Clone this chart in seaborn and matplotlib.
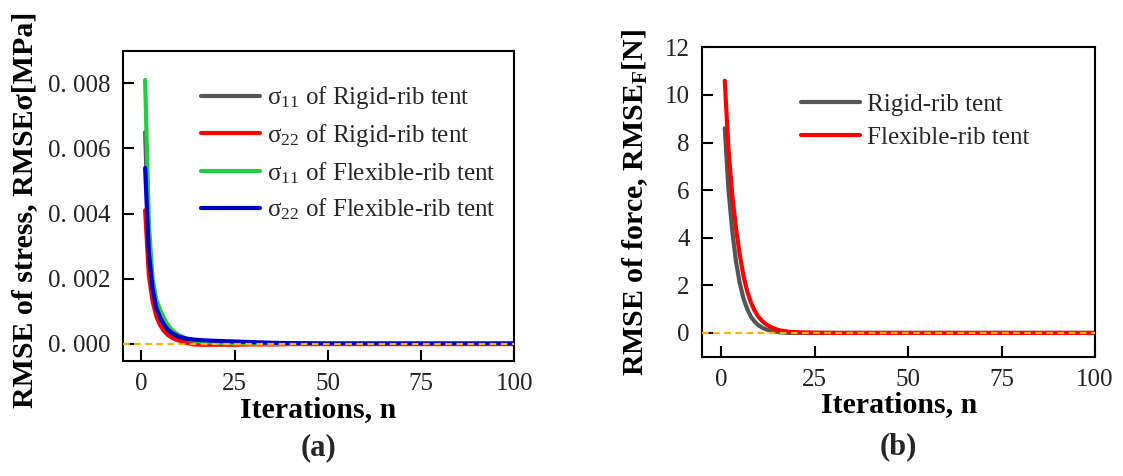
import numpy as np
import pandas as pd
import matplotlib
matplotlib.use("Agg")
import matplotlib.pyplot as plt
from matplotlib.ticker import FixedLocator, FixedFormatter
import seaborn as sns

# ---------------- data ----------------
# (a) RMSE of stress [MPa] against iteration number
iter_a = [1, 2, 3, 4, 5, 6, 7, 8, 9, 10, 12, 14, 16, 20, 25, 30, 35, 40, 50, 60, 80, 100]
s11_rigid = [0.0065, 0.0030, 0.0017, 0.0011, 0.00075, 0.00052, 0.00036, 0.00025, 0.00017,
             0.00012, 0.00006, 0.00003, 0.00001, 0.0, 0.0, 0.0, 0.0, 0.0, 0.0, 0.0, 0.0, 0.0]
s22_rigid = [0.0041, 0.0021, 0.0013, 0.00085, 0.00058, 0.0004, 0.00028, 0.0002, 0.00014,
             0.0001, 0.00003, -0.00002, -0.00003, -0.00003, -0.00003, -0.00002, -0.00002,
             -0.00001, -0.00001, -0.00001, -0.00001, -0.00001]
s11_flex = [0.0081, 0.0037, 0.0020, 0.00135, 0.00105, 0.0008, 0.0006, 0.00045, 0.00035,
            0.00027, 0.00016, 0.0001, 0.00006, 0.00003, 0.00001, 0.0, 0.0, 0.0, 0.0, 0.0, 0.0, 0.0]
s22_flex = [0.0054, 0.0028, 0.0017, 0.0011, 0.00082, 0.0006, 0.00045, 0.00035, 0.00028,
            0.00022, 0.00016, 0.00013, 0.00011, 0.00009, 0.00007, 0.00005, 0.00003, 0.00002,
            0.00001, 0.00001, 0.00001, 0.00001]
labels_a = [r"σ$_{11}$ of Rigid-rib tent", r"σ$_{22}$ of Rigid-rib tent",
            r"σ$_{11}$ of Flexible-rib tent", r"σ$_{22}$ of Flexible-rib tent"]
colors_a = ["#555555", "#FF0000", "#22CC44", "#0000CC"]

# (b) RMSE of force [N] against iteration number
iter_b = [1, 2, 3, 4, 5, 6, 7, 8, 9, 10, 11, 12, 13, 14, 15, 16, 18, 20, 25, 30, 50, 100]
f_rigid = [8.6, 6.0, 4.3, 3.0, 2.1, 1.45, 1.0, 0.68, 0.47, 0.32, 0.22, 0.15, 0.1, 0.06,
           0.04, 0.02, 0.0, 0.0, 0.0, 0.0, 0.0, 0.0]
f_flex = [10.6, 7.7, 5.8, 4.4, 3.3, 2.4, 1.75, 1.28, 0.93, 0.68, 0.5, 0.37, 0.27, 0.2,
          0.14, 0.1, 0.05, 0.03, 0.01, 0.0, 0.0, 0.0]
labels_b = ["Rigid-rib tent", "Flexible-rib tent"]
colors_b = ["#555555", "#FF0000"]

xticks = [0, 25, 50, 75, 100]
yticks_a = [0.0, 0.002, 0.004, 0.006, 0.008]
yticklabels_a = ["0. 000", "0. 002", "0. 004", "0. 006", "0. 008"]
yticks_b = [0, 2, 4, 6, 8, 10, 12]

# ---------------- style ----------------
sns.set_theme(style="ticks")
plt.rcParams["font.family"] = ["Liberation Serif", "DejaVu Serif"]
plt.rcParams["mathtext.fontset"] = "custom"
plt.rcParams["mathtext.rm"] = "Liberation Serif"
plt.rcParams["mathtext.it"] = "Liberation Serif:italic"
plt.rcParams["mathtext.bf"] = "Liberation Serif:bold"

fig = plt.figure(figsize=(11.23, 4.76), dpi=100)
ax_a = fig.add_axes([0.1093, 0.2422, 0.3487, 0.6513])
ax_b = fig.add_axes([0.6254, 0.2506, 0.3497, 0.6500])

df_a = pd.DataFrame({
    "n": iter_a * 4,
    "rmse": s11_rigid + s22_rigid + s11_flex + s22_flex,
    "series": sum([[lab] * len(iter_a) for lab in labels_a], []),
})
df_b = pd.DataFrame({
    "n": iter_b * 2,
    "rmse": f_rigid + f_flex,
    "series": sum([[lab] * len(iter_b) for lab in labels_b], []),
})

sns.lineplot(data=df_a, x="n", y="rmse", hue="series", hue_order=labels_a,
             palette=colors_a, linewidth=3, sort=False, ax=ax_a)
sns.lineplot(data=df_b, x="n", y="rmse", hue="series", hue_order=labels_b,
             palette=colors_b, linewidth=3, sort=False, ax=ax_b)

for ax in (ax_a, ax_b):
    # zero reference line
    ax.axhline(0, color="#FFB000", linestyle=(0, (3, 2)), linewidth=1.6, zorder=5)
    ax.set_xlim(-5, 100)
    ax.xaxis.set_major_locator(FixedLocator(xticks))
    ax.tick_params(direction="in", length=7.7, width=1.5, labelsize=18,
                   color="black", labelcolor="#222222", pad=9,
                   top=False, right=False)
    for sp in ax.spines.values():
        sp.set_visible(True)
        sp.set_linewidth(1.5)
        sp.set_color("black")
    ax.grid(False)

ax_a.set_ylim(-0.00052, 0.009)
ax_a.yaxis.set_major_locator(FixedLocator(yticks_a))
ax_a.yaxis.set_major_formatter(FixedFormatter(yticklabels_a))
ax_b.set_ylim(-1, 12)
ax_b.yaxis.set_major_locator(FixedLocator(yticks_b))

lab_kw = dict(fontsize=21.5, fontweight="bold", color="black")
ax_a.set_xlabel("Iterations, n", **lab_kw)
ax_a.set_ylabel("RMSE of stress, RMSEσ[MPa]", **lab_kw)
ax_b.set_xlabel("Iterations, n", **lab_kw)
ax_b.set_ylabel(r"RMSE of force, RMSE$_\mathbf{F}$[N]", **lab_kw)
ax_a.xaxis.set_label_coords(0.5, -0.159)
ax_b.xaxis.set_label_coords(0.5, -0.156)
ax_a.yaxis.set_label_coords(-0.2495, 0.486)
ax_b.yaxis.set_label_coords(-0.171, 0.50)
for ax in (ax_a, ax_b):
    ax.xaxis.label.set_va("center")
    ax.yaxis.label.set_va("center")

# legends
h_a, _ = ax_a.get_legend_handles_labels()
ax_a.legend(h_a, labels_a, loc="upper left", bbox_to_anchor=(0.2, 0.891),
            frameon=False, fontsize=18, handlelength=2.36, handletextpad=0.28,
            labelspacing=0.43, borderpad=0, borderaxespad=0)
h_b, _ = ax_b.get_legend_handles_labels()
ax_b.legend(h_b, labels_b, loc="upper left", bbox_to_anchor=(0.251, 0.852),
            frameon=False, fontsize=18, handlelength=2.36, handletextpad=0.28,
            labelspacing=0.43, borderpad=0, borderaxespad=0)

fig.text(318.5 / 1123, 1 - 448 / 476, "(a)", ha="center", va="center",
         fontsize=22, fontweight="bold")
fig.text(898.6 / 1123, 1 - 447 / 476, "(b)", ha="center", va="center",
         fontsize=22, fontweight="bold")

fig.savefig("out.png", dpi=100, facecolor="white")
